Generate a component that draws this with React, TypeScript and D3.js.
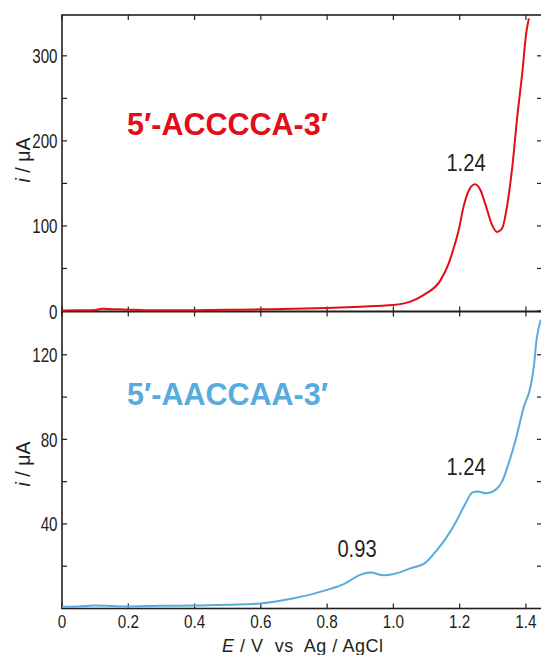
import React from "react";
import * as d3 from "d3";

// Potential (V vs Ag/AgCl) and current (µA)
const redE = [0, 0.05, 0.1, 0.12, 0.15, 0.2, 0.25, 0.3, 0.4, 0.5, 0.6, 0.7, 0.8, 0.9, 0.95, 1.0, 1.051, 1.092, 1.142, 1.167, 1.182, 1.197, 1.212, 1.228, 1.246, 1.263, 1.278, 1.298, 1.313, 1.328, 1.343, 1.359, 1.374, 1.389, 1.401, 1.409];
const redI = [0.5, 0.8, 1.2, 2.5, 2.2, 1.6, 1.0, 0.8, 1.0, 1.4, 2.0, 2.6, 3.5, 5, 6, 7, 11, 19, 36, 56, 74, 95, 123, 142, 149, 142, 125, 101, 93, 97, 123, 170, 229, 280, 327, 344];

const blueE = [0, 0.05, 0.1, 0.15, 0.2, 0.3, 0.4, 0.5, 0.6, 0.7, 0.8, 0.85, 0.9, 0.931, 0.971, 1.001, 1.051, 1.097, 1.132, 1.162, 1.192, 1.218, 1.238, 1.253, 1.283, 1.308, 1.328, 1.348, 1.369, 1.394, 1.414, 1.424, 1.432, 1.445];
const blueI = [0.8, 1.0, 1.4, 1.2, 1.0, 1.3, 1.4, 1.8, 2.4, 4.8, 8.8, 11.5, 15.9, 17.0, 15.7, 16.3, 19.0, 21.7, 27.7, 34.0, 41.9, 49.8, 54.8, 55.3, 54.5, 56.1, 60.0, 68.7, 79.8, 95.5, 105, 114.5, 127, 136.6];

const xTicks = [0, 0.2, 0.4, 0.6, 0.8, 1.0, 1.2, 1.4];
const topTicks = [0, 100, 200, 300];
const topMinor = [50, 150, 250];
const botTicks = [40, 80, 120];
const botMinor = [20, 60, 100];

const RED = "#e30d19";
const BLUE = "#58abdd";
const INK = "#231f20";
const FONT = "'Liberation Sans', Arial, sans-serif";

const W = 541;
const H = 655;
const left = 62;
const right = 542;

const x = d3.scaleLinear().domain([0, 1.4485]).range([left, right]);
const yTop = d3.scaleLinear().domain([0, 348]).range([311, 15]);
const yBot = d3.scaleLinear().domain([0, 140]).range([608.5, 312.5]);

// narrow text, the figure uses a condensed sans
const Narrow = ({ x, y, sx = 0.8, anchor = "middle", size, children }) => (
  <text transform={`translate(${x},${y}) scale(${sx},1)`} textAnchor={anchor} fontSize={size} fill={INK}>
    {children}
  </text>
);

const Panel = ({ y, major, minor, top, bottom, label }) => {
  const tk = 5;
  return (
    <g>
      <rect x={left} y={top} width={right - left} height={bottom - top} fill="none" stroke={INK} strokeWidth={1.6} />
      {xTicks.map((t) => (
        <g key={"x" + t}>
          <line x1={x(t)} x2={x(t)} y1={top} y2={top + tk} stroke={INK} strokeWidth={1.2} />
          <line x1={x(t)} x2={x(t)} y1={bottom} y2={bottom - tk} stroke={INK} strokeWidth={1.2} />
        </g>
      ))}
      {major.concat(minor).map((t) => (
        <g key={"y" + t}>
          <line x1={left} x2={left + tk} y1={y(t)} y2={y(t)} stroke={INK} strokeWidth={1.2} />
          <line x1={right} x2={right - tk} y1={y(t)} y2={y(t)} stroke={INK} strokeWidth={1.2} />
        </g>
      ))}
      {major.map((t) => (
        <Narrow key={"l" + t} x={57.5} y={y(t) + 7.5} sx={0.74} anchor="end" size={20.5}>
          {t}
        </Narrow>
      ))}
      <text transform={`translate(30,${label}) rotate(-90)`} textAnchor="middle" fontSize={19.5} fill={INK}>
        <tspan fontStyle="italic">i</tspan> / μA
      </text>
    </g>
  );
};

export default function App() {
  const line = d3
    .line<number>()
    .curve(d3.curveMonotoneX);
  const redPath = line.x((d, i) => x(redE[i])).y((d) => yTop(d))(redI);
  const bluePath = line.x((d, i) => x(blueE[i])).y((d) => yBot(d))(blueI);

  return (
    <svg width={W} height={H} style={{ position: "absolute", left: 0, top: 0, background: "#fff" }} fontFamily={FONT}>
      <Panel y={yTop} major={topTicks} minor={topMinor} top={15} bottom={311.5} label={160} />
      <Panel y={yBot} major={botTicks} minor={botMinor} top={311.5} bottom={608.5} label={464} />

      <path d={redPath} fill="none" stroke={RED} strokeWidth={2} strokeLinejoin="round" />
      <path d={bluePath} fill="none" stroke={BLUE} strokeWidth={2} strokeLinejoin="round" />

      <text x={127} y={135} fontSize={30.5} fontWeight="bold" fill={RED}>5′-ACCCCA-3′</text>
      <text x={127} y={405} fontSize={30.5} fontWeight="bold" fill={BLUE}>5′-AACCAA-3′</text>

      <Narrow x={466} y={171} sx={0.84} size={24}>1.24</Narrow>
      <Narrow x={466} y={475} sx={0.84} size={24}>1.24</Narrow>
      <Narrow x={357} y={557} sx={0.84} size={24}>0.93</Narrow>

      {xTicks.map((t) => (
        <Narrow key={t} x={x(t)} y={628} sx={0.85} size={18}>
          {t === 0 ? "0" : t.toFixed(1)}
        </Narrow>
      ))}
      <text x={222} y={652} fontSize={18} fill={INK} xmlSpace="preserve" textLength={161} lengthAdjust="spacing">
        <tspan fontStyle="italic">E</tspan> / V  vs  Ag / AgCl
      </text>
    </svg>
  );
}
